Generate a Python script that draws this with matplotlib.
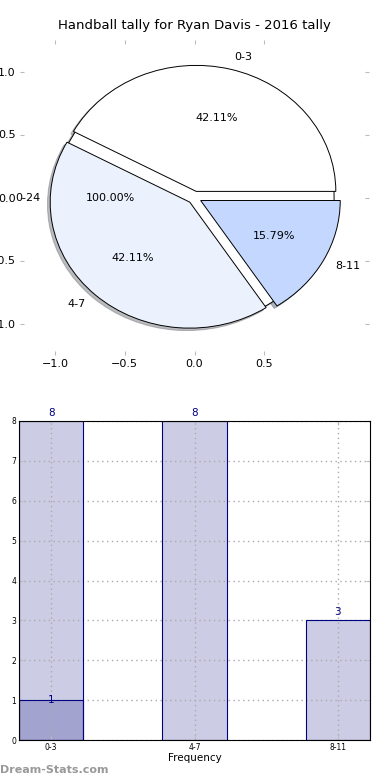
import matplotlib
matplotlib.use("Agg")
import matplotlib.pyplot as plt

# data
pie_labels = ['0-3', '4-7', '8-11']
pie_values = [8, 8, 3]
total_label = ['0-24']
total_value = [19]

bar_labels = ['0-3', '4-7', '8-11']
bar_values = [8, 8, 3]
small_bar_value = [1]

fig = plt.figure(figsize=(3.9, 7.8), dpi=100)

# --- pie ---
ax1 = fig.add_axes([20 / 390, 1 - 355 / 780, 349 / 390, 315 / 780])
wp = dict(edgecolor='black', linewidth=0.7)
sh = dict(ox=-0.014, oy=-0.014, shade=0.5)
ax1.pie(total_value, labels=total_label, autopct='%1.2f%%', colors=['white'],
        shadow=sh, wedgeprops=wp, textprops=dict(fontsize=8))
ax1.pie(pie_values, labels=pie_labels, autopct='%1.2f%%',
        colors=['white', '#ebf1fd', '#c4d8ff'], explode=[0.05, 0.05, 0.05],
        shadow=sh, wedgeprops=wp, textprops=dict(fontsize=8))
ax1.set_aspect('auto')
ax1.set_xlim(-1.25, 1.25)
ax1.set_ylim(-1.25, 1.25)
ax1.set_frame_on(False)
ax1.set_xticks([-1.0, -0.5, 0.0, 0.5])
ax1.set_yticks([-1.0, -0.5, 0.0, 0.5, 1.0])
ax1.tick_params(direction='in', top=True, right=True, length=3,
                color='#bbbbbb', labelsize=8, pad=3)
ax1.set_title('Handball tally for Ryan Davis - 2016 tally', fontsize=9.5, pad=8)

# --- bars ---
ax2 = fig.add_axes([19 / 390, 40 / 780, 351 / 390, 319 / 780])
x = list(range(len(bar_labels)))
bars = ax2.bar(x, bar_values, width=0.45, color='#ccccE5', linewidth=0, zorder=1)
small = ax2.bar([0], small_bar_value, width=0.45, color='#a3a3d0',
                linewidth=0, zorder=1)
# outlines above the grid
ax2.bar(x, bar_values, width=0.45, fill=False, edgecolor='#000080',
        linewidth=0.8, zorder=3)
ax2.bar([0], small_bar_value, width=0.45, fill=False, edgecolor='#000080',
        linewidth=0.8, zorder=3)
for b, v in zip(bars, bar_values):
    ax2.text(b.get_x() + b.get_width() / 2, v + 0.08, str(v), ha='center',
             va='bottom', color='#000080', fontsize=7.5)
for b, v in zip(small, small_bar_value):
    ax2.text(b.get_x() + b.get_width() / 2, v, str(v), ha='center',
             va='center', color='#000080', fontsize=7.5)
ax2.set_xlim(-0.225, 2.225)
ax2.set_ylim(0, 8)
ax2.set_xticks(x)
ax2.set_xticklabels(bar_labels)
ax2.set_yticks(range(0, 9))
ax2.tick_params(direction='in', top=True, right=True, length=3,
                color='#bbbbbb', labelsize=5.5, pad=2)
ax2.set_axisbelow(False)
ax2.grid(True, linestyle=(0, (1, 2.5)), color='#aaaaaa', linewidth=1.0)
for s in ax2.spines.values():
    s.set_zorder(3.5)
ax2.set_xlabel('Frequency', fontsize=7.5, labelpad=1)
ax2.set_ylabel('Stat Intervals', fontsize=7.5)
ax2.yaxis.set_label_coords(-0.045, 0.5)

fig.text(0.0, 10 / 780, 'Dream-Stats.com', fontsize=8, color='#999999',
         fontweight='bold', ha='left', va='center')

fig.savefig('out.png', dpi=100)
